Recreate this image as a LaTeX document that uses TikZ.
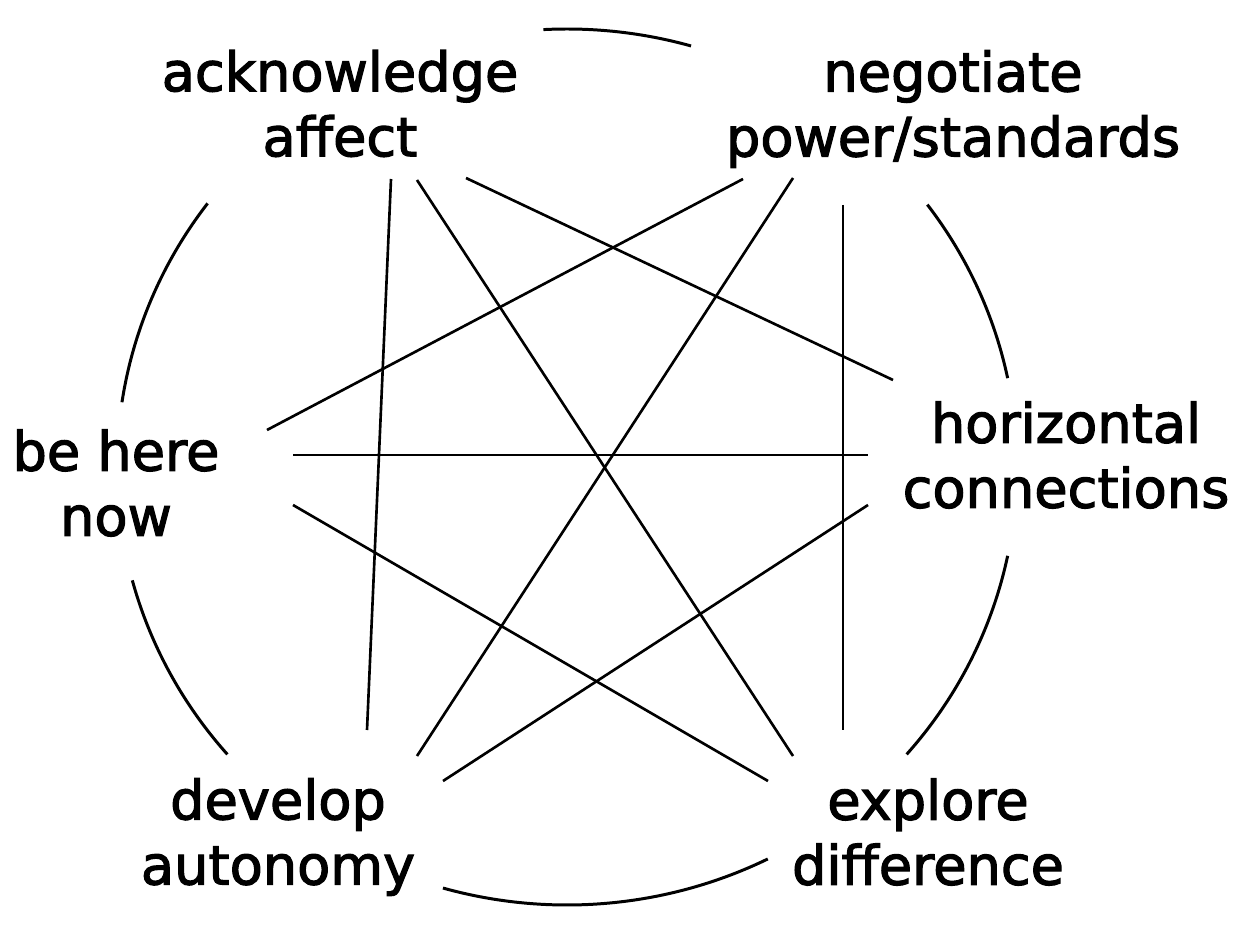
\documentclass[tikz,border=0pt]{standalone}
\usepackage{fontspec}
\setmainfont{DejaVu Sans}
\newfontfamily\topicfont[FakeBold=2.2]{DejaVu Sans}
\usetikzlibrary{calc}
\tikzset{
topic/.style = {align=center, inner sep=0pt,
                font=\topicfont\fontsize{15.4}{18.5}\selectfont},
link/.style = {line width=0.75pt},
rim/.style = {line width=0.85pt}
}

\begin{document}
\begin{tikzpicture}[x=0.01cm,y=0.01cm]
  \useasboundingbox (0,0) rectangle (1255,939);
  \coordinate (centre) at (567,472);

  \node[topic] (ack) at (340,835.5) {acknowledge\\affect};
  \node[topic] (neg) at (953,830) {negotiate\\power/standards};
  \node[topic] (beh) at (116,456) {be here\\now};
  \node[topic] (hor) at (1066,484) {horizontal\\connections};
  \node[topic] (dev) at (278,102) {develop\\autonomy};
  \node[topic] (exp) at (928,107) {explore\\difference};

  % ends of the links, named after the two labels
  \coordinate (ack-dev) at (391,760); \coordinate (dev-ack) at (367,209);
  \coordinate (ack-exp) at (417,759); \coordinate (exp-ack) at (793,183);
  \coordinate (ack-hor) at (466,761); \coordinate (hor-ack) at (893,559);
  \coordinate (neg-beh) at (743,760); \coordinate (beh-neg) at (267,509);
  \coordinate (neg-dev) at (793,761); \coordinate (dev-neg) at (417,183);
  \coordinate (neg-exp) at (843,734); \coordinate (exp-neg) at (843,209);
  \coordinate (beh-hor) at (293,484); \coordinate (hor-beh) at (868,484);
  \coordinate (beh-exp) at (293,434); \coordinate (exp-beh) at (768,158);
  \coordinate (hor-dev) at (868,434); \coordinate (dev-hor) at (443,158);

  \draw[link] (ack-dev) -- (dev-ack);
  \draw[link] (ack-exp) -- (exp-ack);
  \draw[link] (ack-hor) -- (hor-ack);
  \draw[link] (neg-beh) -- (beh-neg);
  \draw[link] (neg-dev) -- (dev-neg);
  \draw[link] (neg-exp) -- (exp-neg);
  \draw[link] (beh-hor) -- (hor-beh);
  \draw[link] (beh-exp) -- (exp-beh);
  \draw[link] (hor-dev) -- (dev-hor);

  % the rim between neighbours
  \draw[rim] ($(centre)+(74:450 and 438)$) arc[start angle=74, end angle=93, x radius=450, y radius=438];
  \draw[rim] ($(centre)+(143:450 and 438)$) arc[start angle=143, end angle=171.5, x radius=450, y radius=438];
  \draw[rim] ($(centre)+(195:450 and 438)$) arc[start angle=195, end angle=221, x radius=450, y radius=438];
  \draw[rim] ($(centre)+(254:450 and 438)$) arc[start angle=254, end angle=296.5, x radius=450, y radius=438];
  \draw[rim] ($(centre)+(319:450 and 438)$) arc[start angle=319, end angle=348.3, x radius=450, y radius=438];
  \draw[rim] ($(centre)+(11.7:450 and 438)$) arc[start angle=11.7, end angle=36.8, x radius=450, y radius=438];
\end{tikzpicture}
\end{document}
